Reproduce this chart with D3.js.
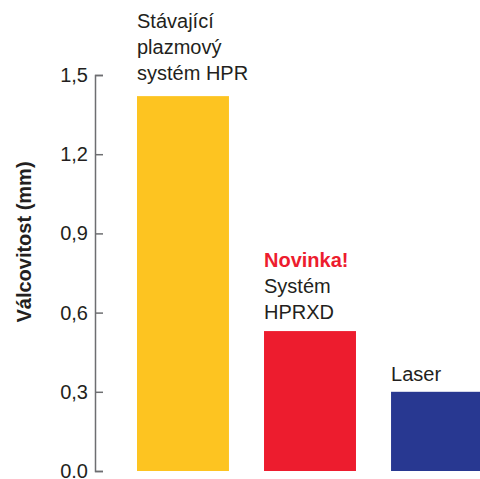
<!DOCTYPE html>
<html>
<head>
<meta charset="utf-8">
<script src="https://cdn.jsdelivr.net/npm/d3@7"></script>
<style>
  html, body { margin: 0; padding: 0; background: #fff; }
  svg { display: block; font-family: "Liberation Sans", Arial, Helvetica, sans-serif; }
</style>
</head>
<body>
<svg id="chart" width="480" height="479"></svg>
<script>
// data
const categories = ["HPR", "HPRXD", "Laser"];
const values = [1.42, 0.53, 0.30];
const barColors = ["#fdc421", "#ed1c2e", "#283891"];
const labelLines = [
  [{ text: "Stávající" }, { text: "plazmový" }, { text: "systém HPR" }],
  [{ text: "Novinka!", highlight: true }, { text: "Systém" }, { text: "HPRXD" }],
  [{ text: "Laser" }]
];
const tickValues = [0, 0.3, 0.6, 0.9, 1.2, 1.5];
const tickLabels = ["0.0", "0,3", "0,6", "0,9", "1,2", "1,5"];
const yTitle = "Válcovitost (mm)";

const svg = d3.select("#chart");

const y = d3.scaleLinear().domain([0, 1.5]).range([471, 75]);
const x = d3.scaleBand()
  .domain(categories)
  .range([137, 483])
  .paddingInner(0.276)
  .paddingOuter(0);

// bars
svg.selectAll("rect.bar")
  .data(categories)
  .enter().append("rect")
  .attr("class", "bar")
  .attr("x", d => x(d))
  .attr("y", (d, i) => y(values[i]))
  .attr("width", x.bandwidth())
  .attr("height", (d, i) => y(0) - y(values[i]))
  .attr("fill", (d, i) => barColors[i]);

// labels above bars
const lineHeight = 26;
const labelGap = [16, 12, 11];
categories.forEach((c, i) => {
  const lines = labelLines[i];
  const baseY = y(values[i]) - labelGap[i];
  svg.append("g")
    .selectAll("text")
    .data(lines)
    .enter().append("text")
    .attr("x", x(c))
    .attr("y", (d, j) => baseY - (lines.length - 1 - j) * lineHeight)
    .attr("font-size", 20)
    .attr("font-weight", d => d.highlight ? "bold" : "normal")
    .attr("fill", d => d.highlight ? "#ed1c2e" : "#231f20")
    .text(d => d.text);
});

// y axis, ticks pointing inward
const axis = d3.axisRight(y)
  .tickValues(tickValues)
  .tickSize(8)
  .tickPadding(0)
  .tickFormat((d, i) => tickLabels[i]);

const gAxis = svg.append("g")
  .attr("transform", "translate(95,0)")
  .call(axis);

gAxis.select(".domain").attr("stroke", "#6d6e71").attr("stroke-width", 1.5);
gAxis.selectAll(".tick line").attr("stroke", "#6d6e71").attr("stroke-width", 1.5);
gAxis.selectAll(".tick text")
  .attr("x", -7)
  .attr("text-anchor", "end")
  .attr("font-size", 20)
  .attr("font-family", "Liberation Sans, Arial, sans-serif")
  .attr("fill", "#231f20");

// y title
svg.append("text")
  .attr("transform", "translate(31,242) rotate(-90)")
  .attr("text-anchor", "middle")
  .attr("font-size", 20)
  .attr("font-weight", "bold")
  .attr("fill", "#231f20")
  .text(yTitle);
</script>
</body>
</html>
